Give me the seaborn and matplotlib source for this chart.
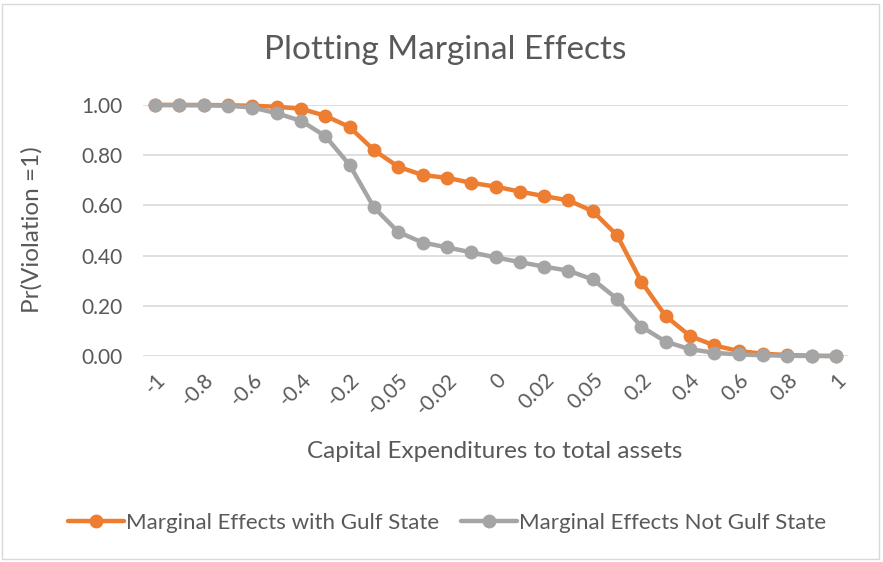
import matplotlib
matplotlib.use("Agg")
import matplotlib.pyplot as plt
import seaborn as sns
import pandas as pd
from matplotlib.patches import Rectangle

categories = ["-1", "-0.9", "-0.8", "-0.7", "-0.6", "-0.5", "-0.4", "-0.3", "-0.2", "-0.1",
              "-0.05", "-0.03", "-0.02", "-0.01", "0", "0.01", "0.02", "0.03", "0.05", "0.1",
              "0.2", "0.3", "0.4", "0.5", "0.6", "0.7", "0.8", "0.9", "1"]
gulf = [1.00, 1.00, 1.00, 0.999, 0.997, 0.993, 0.985, 0.957, 0.912, 0.820,
        0.754, 0.721, 0.710, 0.690, 0.675, 0.655, 0.637, 0.620, 0.577, 0.481,
        0.296, 0.159, 0.080, 0.042, 0.020, 0.009, 0.004, 0.001, 0.000]
not_gulf = [1.00, 1.00, 0.999, 0.997, 0.990, 0.967, 0.937, 0.876, 0.761, 0.592,
            0.494, 0.452, 0.433, 0.413, 0.393, 0.374, 0.356, 0.340, 0.305, 0.228,
            0.117, 0.057, 0.027, 0.013, 0.006, 0.003, 0.001, 0.000, 0.000]
series_names = ["Marginal Effects with Gulf State", "Marginal Effects Not Gulf State"]
colors = ["#ED7D31", "#A5A5A5"]

rows = []
for i, c in enumerate(categories):
    rows.append({"pos": i, "value": gulf[i], "series": series_names[0]})
for i, c in enumerate(categories):
    rows.append({"pos": i, "value": not_gulf[i], "series": series_names[1]})
df = pd.DataFrame(rows)

sns.set_theme(style="white")
plt.rcParams["font.family"] = ["Lato", "DejaVu Sans"]
txt = "#595959"

fig = plt.figure(figsize=(8.83, 5.62), dpi=100)
ax = fig.add_axes([143/883, 1-356/562, (848-143)/883, (356-105)/562])

sns.lineplot(data=df, x="pos", y="value", hue="series", hue_order=series_names,
             palette=dict(zip(series_names, colors)), marker="o", markersize=10,
             markeredgewidth=0, linewidth=3.2, ax=ax, legend=True)
for ln in ax.lines:
    ln.set_clip_on(False)

ax.set_xlim(-0.5, len(categories) - 0.5)
ax.set_ylim(0, 1.0)
ax.set_yticks([0, 0.2, 0.4, 0.6, 0.8, 1.0])
ax.set_yticklabels([f"{v:.2f}" for v in [0, 0.2, 0.4, 0.6, 0.8, 1.0]], fontsize=15, color=txt)
ticks = list(range(0, len(categories), 2))
ax.set_xticks(ticks)
ax.set_xticklabels([categories[i] for i in ticks], rotation=45, ha="right",
                   rotation_mode="anchor", fontsize=15, color=txt)
ax.tick_params(axis="both", length=0)
ax.tick_params(axis="x", pad=10)
ax.tick_params(axis="y", pad=15)
ax.grid(axis="y", color="#D9D9D9", linewidth=1.2)
ax.set_axisbelow(True)
for s in ["top", "right", "left", "bottom"]:
    ax.spines[s].set_visible(False)

ax.set_xlabel("")
ax.set_ylabel("")
fig.text(495/883, 1-452/562, "Capital Expenditures to total assets", ha="center", va="center",
         fontsize=17.5, color=txt)
fig.text(32/883, 1-230/562, "Pr(Violation =1)", ha="center", va="center", rotation=90,
         fontsize=17.5, color=txt)

handles, labels = ax.get_legend_handles_labels()
ax.get_legend().remove()
fig.legend(handles, labels, loc="center", bbox_to_anchor=(447/883, 1-523/562), ncol=2,
           frameon=False, fontsize=16, labelcolor=txt, handlelength=2.5,
           handletextpad=0.1, columnspacing=1.0)

fig.text(445/883, 1-50/562, "Plotting Marginal Effects", ha="center", va="center",
         fontsize=24, color=txt)

fig.patches.append(Rectangle((2/883, 3/562), 877/883, 555/562, transform=fig.transFigure,
                             fill=False, edgecolor="#D9D9D9", linewidth=1))

fig.savefig("out.png", dpi=100, facecolor="white")
